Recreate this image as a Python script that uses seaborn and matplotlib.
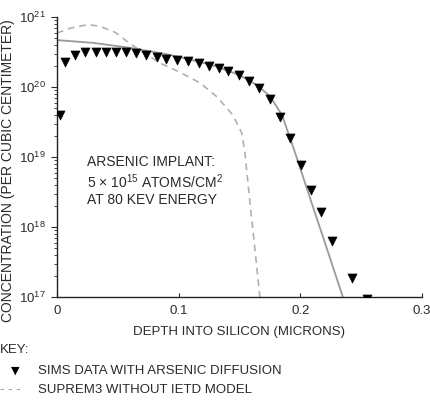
import numpy as np
import pandas as pd
import matplotlib
matplotlib.use("Agg")
import matplotlib.pyplot as plt
import seaborn as sns

# SIMS data (depth in microns, log10 concentration)
sims_depth = [0.0025, 0.0066, 0.0148, 0.023, 0.032, 0.040, 0.0485, 0.0567, 0.065, 0.073,
              0.082, 0.090, 0.0986, 0.1077, 0.1167, 0.125, 0.133, 0.141, 0.1496, 0.158,
              0.166, 0.175, 0.183, 0.1915, 0.2005, 0.209, 0.217, 0.226, 0.2425, 0.2548]
sims_log = [19.60, 20.36, 20.46, 20.50, 20.50, 20.50, 20.50, 20.50, 20.49, 20.46,
            20.43, 20.40, 20.39, 20.37, 20.34, 20.30, 20.27, 20.23, 20.17, 20.09,
            19.99, 19.83, 19.57, 19.27, 18.89, 18.53, 18.21, 17.80, 17.27, 16.97]

# SUPREM3 with IETD model (solid)
ietd_depth = [0.0, 0.03, 0.06, 0.09, 0.11, 0.13, 0.15, 0.165, 0.175, 0.185, 0.195, 0.21, 0.22, 0.235]
ietd_log = [20.67, 20.63, 20.56, 20.47, 20.39, 20.30, 20.17, 20.02, 19.87, 19.60, 19.10, 18.31, 17.79, 17.0]

# SUPREM3 without IETD model (dashed)
noietd_depth = [0.0, 0.011, 0.025, 0.035, 0.048, 0.06, 0.073, 0.085, 0.1, 0.1175, 0.1315,
                0.1446, 0.152, 0.1545, 0.1586, 0.163, 0.1668]
noietd_log = [20.77, 20.84, 20.89, 20.87, 20.78, 20.62, 20.47, 20.34, 20.22, 20.06, 19.86,
              19.60, 19.34, 19.06, 18.36, 17.64, 17.0]

x_ticks = [0, 0.1, 0.2, 0.3]
x_tick_labels = ["0", "0.1", "0.2", "0.3"]
y_ticks = [1e17, 1e18, 1e19, 1e20, 1e21]

sns.set_style("ticks")
plt.rcParams['font.family'] = ['Liberation Sans', 'DejaVu Sans']
plt.rcParams['mathtext.fontset'] = 'custom'
plt.rcParams['mathtext.rm'] = 'Liberation Sans'

TXT = "#2a2a2a"

fig = plt.figure(figsize=(4.31, 4.00), dpi=100)
ax = fig.add_axes([0.132, 0.2575, 0.847, 0.7])

df_sims = pd.DataFrame({"depth": sims_depth, "conc": 10 ** np.array(sims_log)})
df_ietd = pd.DataFrame({"depth": ietd_depth, "conc": 10 ** np.array(ietd_log)})
df_no = pd.DataFrame({"depth": noietd_depth, "conc": 10 ** np.array(noietd_log)})

sns.lineplot(data=df_no, x="depth", y="conc", ax=ax, color="#b0b0b0", lw=1.2,
             linestyle=(0, (4, 3)), sort=False)
sns.lineplot(data=df_ietd, x="depth", y="conc", ax=ax, color="#9a9a9a", lw=1.3, sort=False)
sns.scatterplot(data=df_sims, x="depth", y="conc", ax=ax, marker="v", color="black",
                s=42, edgecolor="black", linewidth=0.5, zorder=5, clip_on=True)

ax.set_yscale("log")
ax.set_xlim(0, 0.3)
ax.set_ylim(1e17, 1e21)
ax.set_xticks(x_ticks)
ax.set_xticklabels(x_tick_labels)
ax.set_yticks(y_ticks)
ax.set_yticklabels([r"10$^{17}$", r"10$^{18}$", r"10$^{19}$", r"10$^{20}$", r"10$^{21}$"])
ax.tick_params(axis="x", direction="in", length=3, labelsize=9.5, pad=6, colors=TXT)
ax.tick_params(axis="y", which="major", direction="out", length=4, labelsize=9.5, pad=4, colors=TXT)
ax.tick_params(axis="y", which="minor", direction="out", length=2.5)
ax.set_xlabel("DEPTH INTO SILICON (MICRONS)", fontsize=9.5, color=TXT, labelpad=6)
ax.set_ylabel("CONCENTRATION (PER CUBIC CENTIMETER)", fontsize=10, color=TXT, labelpad=2)
ax.yaxis.set_label_coords(-0.115, 0.45)
for s in ["top", "right"]:
    ax.spines[s].set_visible(False)
for s in ["left", "bottom"]:
    ax.spines[s].set_color("#222222")
    ax.spines[s].set_linewidth(1.0)

ax.text(0.025, 10 ** 19.03, "ARSENIC IMPLANT:\n5 × 10$^{15}$ ATOMS/CM$^2$\nAT 80 KEV ENERGY",
        fontsize=10, color=TXT, va="top", ha="left", linespacing=1.2)

# Key
fig.text(0.0, 1 - 350 / 400, "KEY:", fontsize=9.5, color=TXT, va="center", ha="left")
fig.text(15 / 431, 1 - 371 / 400, "▼", fontsize=8, color="black", va="center", ha="center",
         family=['DejaVu Sans'])
fig.text(38 / 431, 1 - 371 / 400, "SIMS DATA WITH ARSENIC DIFFUSION", fontsize=9.5,
         color=TXT, va="center", ha="left")
fig.text(0.0, 1 - 390 / 400, "- - -", fontsize=9.5, color="#888888", va="center", ha="left")
fig.text(38 / 431, 1 - 390 / 400, "SUPREM3 WITHOUT IETD MODEL", fontsize=9.5,
         color=TXT, va="center", ha="left")

fig.savefig("out.png", dpi=100)
